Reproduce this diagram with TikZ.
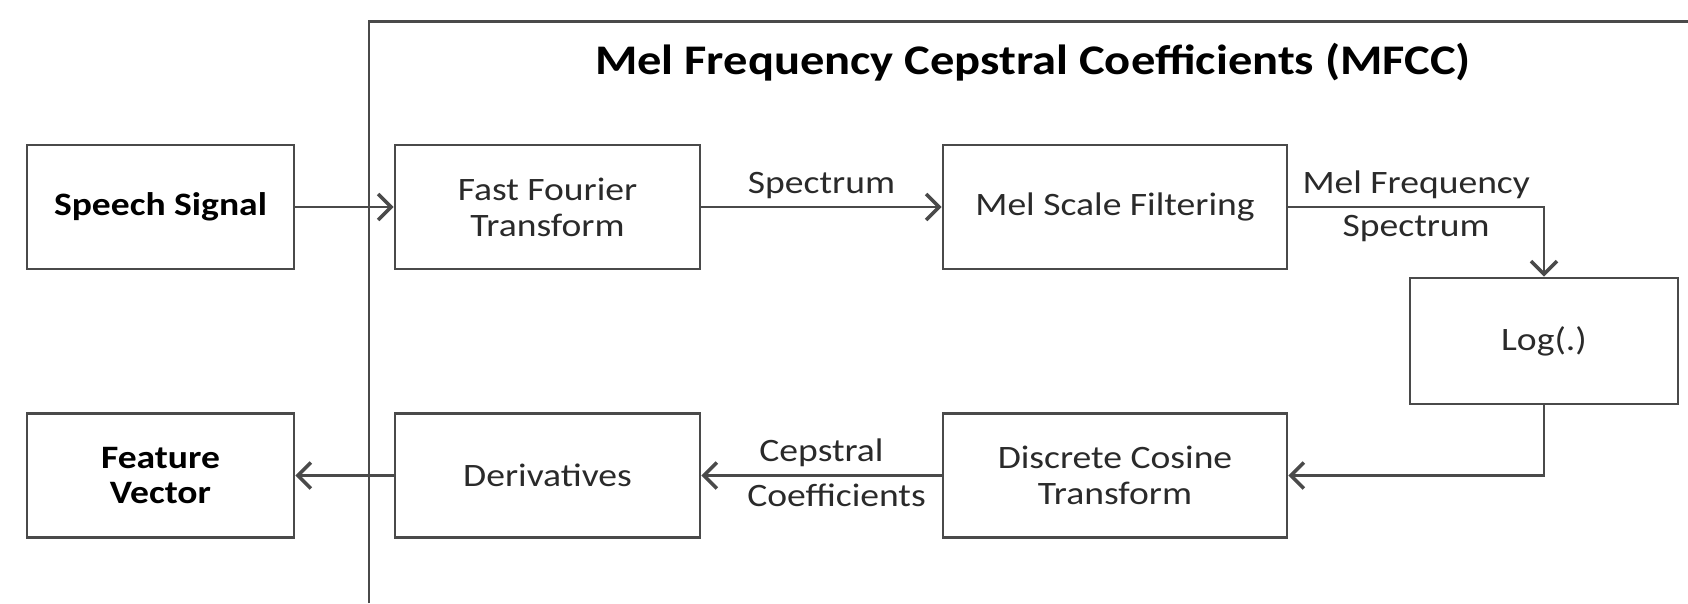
\documentclass[tikz,border=0pt]{standalone}
\usepackage{fontspec}
\setmainfont{Carlito}[FakeStretch=1.15]
\usetikzlibrary{arrows.meta}
\definecolor{linegray}{HTML}{4A4A4A}
\definecolor{textgray}{HTML}{2A2A2A}
\begin{document}
\begin{tikzpicture}[
		box/.style={draw=linegray,line width=0.8pt,rectangle,minimum height=1.24cm,align=center,inner sep=0pt,text=textgray,font=\fontsize{9.3}{10.2}\selectfont},
		flow/.style={draw=linegray,line width=0.8pt,-{Straight Barb[length=1.3mm,width=2.6mm,line width=1pt]}},
		lbl/.style={text=textgray,font=\fontsize{9.3}{10.2}\selectfont,inner sep=2pt}]
		
		\useasboundingbox (0,0) rectangle (16.88,-6.03);
		%frame
		\draw[linegray,line width=0.8pt] (3.69,-6.03) -- (3.69,-0.215) -- (16.88,-0.215);
		\node[font=\fontsize{12}{14}\selectfont\bfseries](title) at (10.33,-0.62) {Mel Frequency Cepstral Coefficients (MFCC)};
		%boxes
		\node[box,minimum width=2.67cm,font=\fontsize{9.3}{10.2}\selectfont\bfseries,text=black](speech) at (1.605,-2.07) {Speech Signal};
		\node[box,minimum width=3.05cm](fft) at (5.475,-2.07) {Fast Fourier\\Transform};
		\node[box,minimum width=3.44cm](mel) at (11.15,-2.07) {Mel Scale Filtering};
		\node[box,minimum width=2.68cm,minimum height=1.26cm](log) at (15.44,-3.41) {Log(.)};
		\node[box,minimum width=3.44cm](dct) at (11.15,-4.755) {Discrete Cosine\\Transform};
		\node[box,minimum width=3.05cm](deriv) at (5.475,-4.755) {Derivatives};
		\node[box,minimum width=2.67cm,font=\fontsize{9.3}{10.2}\selectfont\bfseries,text=black](feature) at (1.605,-4.755) {Feature\\Vector};
		%arrows
		\draw[flow] (speech) -- (fft);
		\draw[flow] (fft) -- node[lbl,above]{Spectrum} (mel);
		\draw[flow] (mel.east) -| node[lbl,pos=0.25,above]{Mel Frequency} node[lbl,pos=0.25,below]{Spectrum} (log.north);
		\draw[flow] (log.south) |- (dct.east);
		\draw[flow] (dct) -- node[lbl,above]{Cepstral} node[lbl,below,xshift=0.15cm]{Coefficients} (deriv);
		\draw[flow] (deriv) -- (feature);
		\end{tikzpicture}
\end{document}
